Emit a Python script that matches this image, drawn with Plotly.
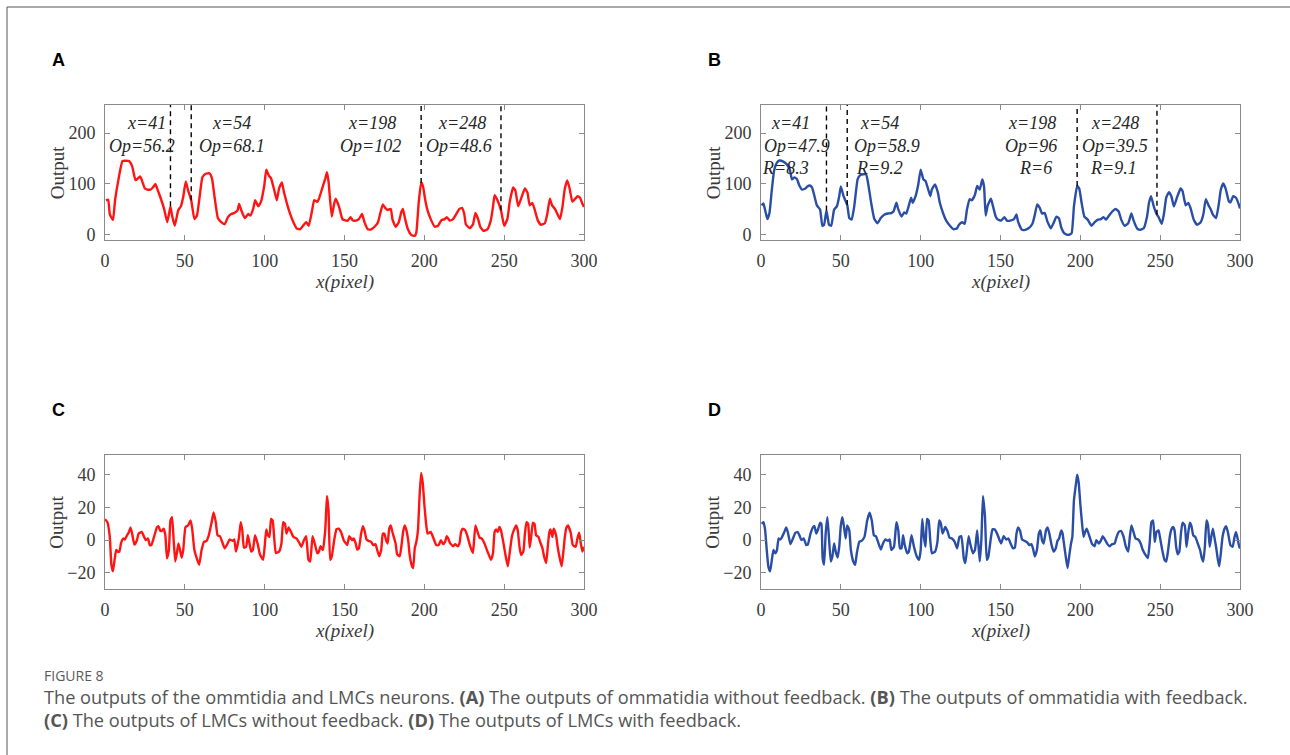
import plotly.graph_objects as go

# ---------------- data ----------------
A_x = [0.6,2,3,5,6.3,8.4,11,15,17,19,20,22,23,25,26.4,28.5,30,31.6,33,35,37,39,41,42,43.7,45.8,47.5,49,50.6,52,54,56,57.6,59,61,63,65.4,67,68.6,70.7,72.8,75,77,79,81,83,84,85.4,87.6,89.7,91,92.8,94,96,97.7,99.8,101,102.7,104,106,107.6,109,110.8,112,114,116,118,120,122,124.5,126,127.6,129.7,131,133,134,136,138,139,140,142,143.5,144.5,146.6,148.7,150,152,153.8,155,157,159,161,162.5,164.6,166.7,168.8,171,172.6,174,175.5,177,179,180,182,184,185.6,186.6,188,189.7,191.8,194,195,196.4,198,199.2,200.6,202,204,206.5,208.6,210.7,212.8,214,216,218,220,222,223.6,225,226,228.5,230.5,232,233.7,235,237,239.5,241.6,243,244,245.8,248,250,252,253.5,255.6,257,258.8,261,263,264.6,266,267.6,269,271,273,275.5,277,278.6,280,281.8,283.5,285,286.5,288,289.5,291,292.7,294,296,297.5,299,300]
A_y = [68,69,41,29,68,108,145,145,135,108,109,115,108,91,89,89,93,100,88,71,51,25,56,38,18,48,56,75,105,88,68,31,38,68,113,120,121,111,75,33,25,21,35,41,43,48,61,48,33,41,38,51,68,56,65,98,128,116,111,88,68,91,103,85,61,41,25,13,11,20,25,18,48,68,65,71,91,111,123,105,36,61,71,55,31,29,28,35,29,28,31,41,25,11,11,16,25,45,60,53,49,51,31,16,25,45,51,31,11,0,-2,5,61,103,95,68,48,31,16,18,29,31,35,28,31,41,51,53,41,21,13,21,43,31,16,8,11,28,55,78,68,48.6,18,31,65,93,87,56,75,91,83,58,63,51,29,20,23,41,71,58,51,40,31,55,91,107,91,65,69,76,73,61,55]

B_x = [0.4,1.5,2.5,4,5.3,6.8,8.2,10,11.6,14,16,18,19.4,21,22.6,24,25.7,27.8,29,30.6,32,33.5,35,37,38.4,39.5,41,41.8,42.6,44,45.8,47.5,49,50,51.7,54,55.3,56.8,58.4,60.5,62,64,65.8,67,69,71,73,75,77.4,79.5,81.6,83,84.8,86,88,89.7,91,92.6,94,95,96.8,98.5,100,101.7,103,104.4,106,107,109,110.8,112,114,116,118.6,120.7,122.8,124,126,127.6,129,130.6,132,134,135.4,137,138.6,139.7,140.7,142,144,145,147,148,150.4,152.5,154,156,158.4,160,161,163.4,165.5,167.6,170,171.4,173,174.6,176,177.7,179.4,181.5,183.6,185,186.6,188,190,192.4,194.5,196,198,199.3,200.8,202.5,204.6,207,209,211,213,214.5,216,218,220,222,224,225.6,227.7,230,232,233.4,235.5,237.6,239.7,241.8,243,244.3,246,248,249,251,252.3,253.8,255.5,257,258.6,260.7,262.8,264,266,267.6,269,271,273,275.4,277,278.6,280.3,281.7,283,285,286.6,288,289.5,291,293,294,295.8,297.5,299,300]
B_y = [58,62,50,31,43,89,126,142,146,144,139,129,109,113,109,97,89,91,95,97,93,76,58,50,18,20,47.9,33,20,18,50,56,76,95,76,58.9,33,30,56,109,117,119,119,103,63,31,23,33,40,42,43,46,63,50,36,44,42,58,73,63,76,99,128,109,106,93,76,89,99,83,63,43,28,17,11,13,20,25,22,50,70,68,79,96,89,109,95,38,58,71,60,36,31,28,35,28,28,31,40,26,10,10,13,22,38,60,53,42,43,26,13,26,36,33,15,3,0,3,56,96,91,63,36,30,18,25,30,31,35,30,38,46,51,46,30,18,23,42,28,13,10,13,36,63,76,56,39.5,35,22,40,73,84,76,56,75,91,86,58,63,53,30,20,25,40,70,58,50,40,33,58,89,101,91,66,64,76,73,62,52]

C_x = [0,1.5,3,4,5,6,7,8,9,10,11.4,12.4,13.5,15,16,17,18.4,20,21,23,24.5,25.5,27,28,29,31,32.5,33.5,34.6,35.6,36.7,37.8,38.8,40,41,42,43,44,45,46,47,48,49,50.4,52,53.6,54.6,56,57.8,59,60.5,62,63.5,65,67,68,69.4,70.5,72,73.6,75,76.8,78,80,81,82,83.8,85,86,87,88.4,89.5,90.5,91.6,92.6,94,95.8,97,99,100,101,102,103,104,105,106,107,109,110.5,111.6,112.7,113.7,115,117,118,120,121.7,123,124.6,126,127.4,128.5,130,131.6,133,134,135,136.5,138,139,140,141,142,143.7,145,146.4,148,149.5,151.7,153,154.8,155.8,157,158,159,160.4,161.5,162.5,163.8,165,166.7,168,169.4,170.4,171.7,173,174,175,176,177,178,179,180,182,183,184.6,185.6,186.7,187.7,188.8,190,190.8,192,193,194,195,196,197,198,199,200,201,202,203,204,205.8,207.5,209,210.4,211.7,213,214,215,216,218,219.4,220.8,222,223,224,225.6,227,228.8,230.4,231,232,233,234.6,236,237.5,238.8,240,241.7,243,244,245,246,247,248,249.6,251,252.3,253.7,254.8,256,257.5,258.5,259.6,260.6,262,263,264,265,266,267,268,269,270,271.5,272.5,274,275,276.3,277.3,278.3,279,280.2,281,282.5,283.5,284.6,286,287,288,289,290,291.7,293,294.8,296,297,298,299,300]
C_y = [12.7,11,2,-15,-19,-12,-6,-7,-7,-2,1,0.4,2.4,5,7.8,4,-2.7,0,4,5,2,0,1,-3,-3,3,7.8,8.6,5.7,5.7,7,3,-11,-6,12,14,0,-13,-8,-2,-6,-10.6,-6,8,9,12,7,-6,-12,-15,-6,-1,-0.6,3,12,17,11,3,2.4,-1.6,-5,-2,0.4,-0.4,0.4,-7,1,11,6,-4.5,-4,3,-2,-7,-6,3,-3,-8.6,-12,-4,6.5,3,2,13,12,1,-7.8,-7,-2,11,10,4,7.8,4,2,1,-1.6,-4,0,2.4,-12,-13,2.4,-3,-8,-7,-3.7,-6,7,27,18,-12,-10,1,6.7,7,4.5,0,-3,2.4,0,1,-2,-5.7,-5,4,8.6,6,0.4,-0.4,-1,-3,-2.4,-5.7,-9.8,-6,4,4,0,-2,7,9,5,-2,-8.6,-9.8,-4,5,9,6,-1,-9,-15,-17,-5,-1,6,26.5,41,35,22,11,4,4.5,5,1,-3,-3,0,-2.4,-1,2.4,1,-1.6,-3.7,-2.4,-3.7,-2,5,7,6,2.4,-4,-7.8,-2,9,6,1.6,1,-1.6,-5,-8,-12,-8,5,6.5,5,8,6,-2,-10,-16,-6,2,6,9,6,-4,-9,-7,4,11,10,-4.5,3,10.6,10,3,2,-1,-5,-10,-14,-4,5,6.5,2,7,3,-4,-10,-16,-8,2,7.8,9,4.5,-3,-4,1.6,4.5,-2,-7,-4]

D_x = [0.4,1.5,2.5,3.6,4.6,5.7,6.8,7.8,8.9,10,11,12,13,14.6,15.8,16.9,18.4,20,21.5,23,24.3,25.3,26.8,28.3,29.3,31,32.5,33.5,34.6,35.7,37,37.8,38.6,39.5,40.5,41.6,42.6,43.7,44.7,45.8,46.8,48,49,50,51,52,53,54,55.3,56.3,57.8,59,60,61.6,63,64.8,66.5,68,69.4,70.7,72,73.6,75,76.4,78,79.5,80.6,81.6,83.3,84.8,86,87,88,89,90,91.6,92.6,94.3,95.8,97.5,99,100,101,102,103,104,105,106,107,109,110.5,111.6,112.7,113.7,115.4,117,118,119.6,121.3,122.8,124.3,125.5,127,128,130,131,132.7,134,135.4,137,138,139,140.3,141.4,142.4,144,145,146.4,148,149.6,150.4,152,153.6,155,156.3,157.8,159,160,161,162.2,163.5,165,167,168,169.4,170.5,171.5,172.8,174,175,176,177,178.5,179.5,180.6,182,183.3,184.6,185.7,186.7,188,188.8,190,191,192,193,194,195,196,197.3,198,199,200,201,202,203,204,205.7,207.4,209,210,211.6,213,214,215.4,217,218.4,220,221.5,222.6,224,225.4,227,228.5,230,231,232,233.3,234.6,236.3,237.8,239,240.8,242.3,243.4,244.5,245.6,246.6,247.7,249,250,251.3,252.7,253.8,255,256,257,258,259,260,261,262,263,264,265.4,266.5,267.5,268.6,269.6,270.7,272,273.4,275,276,277,278,279,280,281,282,283,284,285,286,287,288,289,290.3,291.3,292.4,294,295.4,296.5,297.5,298.5,299.6,300]
D_y = [10,11,7,-6,-16,-19,-12,-6,-8,-6,1,0.4,1.6,5,7.8,4.5,-2.4,1,4.5,5,2.4,0,1,-3,-2.7,4,7.8,8.6,4,6.5,10.6,10,-11,-15,4,14,1,-13,-10,-2,-7,-10.6,-4,9,14,8,1,9,6,-6,-13,-15,-8,-1,-0.4,2,12,16.7,12,3,2.4,-2,-5.7,-2,0.4,-0.4,0.4,-6,-4,11,6,-5,-5,3,-3,-8,-7,3,-4,-9.8,-12,-6,13,2,-4,13,12,0,-8,-7,-1,12,10,4,8,5,1.6,1,-1,-5,2,2.4,-11,-14,2.4,-2,-8,-6,6,-13,0,27,14,-12,-10,1.6,6.7,6.5,3.7,-0.4,-2,2.4,0.4,1,-2,-5,-4.5,4,7.8,6,0.4,-0.4,-1.6,-3,-2.4,-5.7,-9.8,-6,4,6,0,-2,6,7.8,4,-3,-7,-5,-0.4,1,6,4.5,-4,-11,-17,-10,-3,2,24.5,34.7,40,35,22,11,2,5,7,2.4,-2.4,-3.7,0,-2,0,2.4,0.4,-2.4,-3.7,-2.4,-2,1.6,5,5.7,2.4,-4,-7,2,9,5,1,0.4,-2,-5.7,-9,-11,-2,11,12,-1,5,6,1,-6,-12,-13,-6,2,6.5,8,6,-4,-8.6,-7,4,10.6,9,-4,4,10.6,8.6,3,2,-1.6,-6,-10.6,-13,-4,12,9,-4,2,7,1.6,-4,-11,-16,-8,1.6,7,8.6,5,-3,-4,1.6,5,1,-4.5,-4]

mark_x = [41, 54, 198, 248]
A_op = [56.2, 68.1, 102, 48.6]
B_op = [47.9, 58.9, 96, 39.5]
B_R = [8.3, 9.2, 6, 9.1]

x_ticks = [0, 50, 100, 150, 200, 250, 300]
top_yticks = [0, 100, 200]
bot_yticks = [-20, 0, 20, 40]

caption_title = "FIGURE 8"
caption_lines = [
    "The outputs of the ommtidia and LMCs neurons. <b>(A)</b> The outputs of ommatidia without feedback. <b>(B)</b> The outputs of ommatidia with feedback.",
    "<b>(C)</b> The outputs of LMCs without feedback. <b>(D)</b> The outputs of LMCs with feedback.",
]

# ---------------- layout helpers ----------------
W, H = 1290, 755
RED = "#ff1414"
BLUE = "#2a4ea6"
SERIF = "Liberation Serif"
AXC = "#8a8a8a"

def fx(p):
    return p / W

def fy(p):
    return 1 - p / H

TOP_RANGE = [-9, 255]
BOT_RANGE = [-29.5, 52]

panels = [
    ("A", (105, 584), (105, 239.5), A_x, A_y, RED, TOP_RANGE, top_yticks),
    ("B", (761, 1240), (105, 239.5), B_x, B_y, BLUE, TOP_RANGE, top_yticks),
    ("C", (105, 584), (455, 588.5), C_x, C_y, RED, BOT_RANGE, bot_yticks),
    ("D", (761, 1240), (455, 588.5), D_x, D_y, BLUE, BOT_RANGE, bot_yticks),
]

fig = go.Figure()
layout = dict(
    width=W, height=H, margin=dict(l=0, r=0, t=0, b=0),
    paper_bgcolor="white", plot_bgcolor="white", showlegend=False,
)
annotations = []
shapes = []

for i, (key, (xl, xr), (yt, yb), xs, ys, col, yr, yt_vals) in enumerate(panels):
    n = "" if i == 0 else str(i + 1)
    xa, ya = "x" + n, "y" + n
    fig.add_trace(go.Scatter(x=xs, y=ys, mode="lines", xaxis=xa, yaxis=ya,
                             line=dict(color=col, width=2.4, shape="spline", smoothing=0.4),
                             hoverinfo="skip"))
    common = dict(showline=True, mirror="ticks", linecolor=AXC, linewidth=1,
                  ticks="inside", ticklen=5, tickcolor=AXC, tickwidth=1,
                  showgrid=False, zeroline=False, automargin=False,
                  tickfont=dict(family=SERIF, size=18, color="#3a3a3a"),
                  ticklabelstandoff=5)
    layout["xaxis" + n] = dict(domain=[fx(xl), fx(xr)], range=[0, 300], tickvals=x_ticks,
                               anchor=ya, **common)
    layout["yaxis" + n] = dict(domain=[fy(yb), fy(yt)], range=yr, tickvals=yt_vals,
                               anchor=xa, **common)
    xc = (xl + xr) / 2
    annotations.append(dict(text="<i>x(pixel)</i>", x=fx(xc), y=fy(yb + 42), xref="paper", yref="paper",
                            showarrow=False, font=dict(family=SERIF, size=19, color="#3a3a3a"),
                            xanchor="center", yanchor="middle"))
    annotations.append(dict(text="Output", x=fx(xl - 48), y=fy((yt + yb) / 2), xref="paper", yref="paper",
                            showarrow=False, textangle=-90,
                            font=dict(family=SERIF, size=19, color="#3a3a3a"),
                            xanchor="center", yanchor="middle"))
    annotations.append(dict(text="<b>" + key + "</b>", x=fx(xl - 47), y=fy(yt - 45), xref="paper",
                            yref="paper", showarrow=False,
                            font=dict(family="Liberation Sans", size=18, color="black"),
                            xanchor="center", yanchor="middle"))

# dashed marker lines for A and B
for op_vals, xa, ya, top in [(A_op, "x", "y", TOP_RANGE[1]), (B_op, "x2", "y2", TOP_RANGE[1])]:
    for mx, op in zip(mark_x, op_vals):
        fig.add_trace(go.Scatter(x=[mx, mx], y=[op, top], mode="lines", xaxis=xa, yaxis=ya,
                                 line=dict(color="black", width=1.4, dash="5px,4px"),
                                 hoverinfo="skip"))

ann_font = dict(family=SERIF, size=18, color="#262626")
A_pos_x1 = [25.9, 79, 167, 223.8]
A_pos_x2 = [23, 79.7, 166, 222]
B_pos_x1 = [18.2, 74.5, 169.8, 222]
B_pos_x2 = [22.4, 78.7, 169.2, 222]
B_pos_x3 = [15.5, 74.5, 171.7, 221]
for j, mx in enumerate(mark_x):
    annotations.append(dict(text=f"<i>x={mx}</i>", x=A_pos_x1[j], y=219, xref="x", yref="y",
                            showarrow=False, font=ann_font))
    annotations.append(dict(text=f"<i>Op={A_op[j]:g}</i>", x=A_pos_x2[j], y=175, xref="x", yref="y",
                            showarrow=False, font=ann_font))
    annotations.append(dict(text=f"<i>x={mx}</i>", x=B_pos_x1[j], y=219, xref="x2", yref="y2",
                            showarrow=False, font=ann_font))
    annotations.append(dict(text=f"<i>Op={B_op[j]:g}</i>", x=B_pos_x2[j], y=175, xref="x2", yref="y2",
                            showarrow=False, font=ann_font))
    annotations.append(dict(text=f"<i>R={B_R[j]:g}</i>", x=B_pos_x3[j], y=131, xref="x2", yref="y2",
                            showarrow=False, font=ann_font))

# caption
annotations.append(dict(text=caption_title, x=fx(42), y=fy(675), xref="paper", yref="paper",
                        showarrow=False, xanchor="left", yanchor="middle",
                        font=dict(family="Open Sans", size=14, color="#5a5a5a")))
for k, line in enumerate(caption_lines):
    annotations.append(dict(text=line, x=fx(42), y=fy(697 + 23 * k), xref="paper", yref="paper",
                            showarrow=False, xanchor="left", yanchor="middle",
                            font=dict(family="Open Sans", size=18.2, color="#555555")))

# outer frame
shapes.append(dict(type="rect", xref="paper", yref="paper", x0=fx(7), x1=fx(1300), y0=fy(770), y1=fy(7),
                   line=dict(color="#555555", width=1)))

layout["annotations"] = annotations
layout["shapes"] = shapes
fig.update_layout(**layout)
fig.write_html("out.html",
               config={"displayModeBar": False, "staticPlot": True},
               post_script="document.body.style.margin='0';document.body.style.padding='0';"
                           "document.body.style.overflow='hidden';")
